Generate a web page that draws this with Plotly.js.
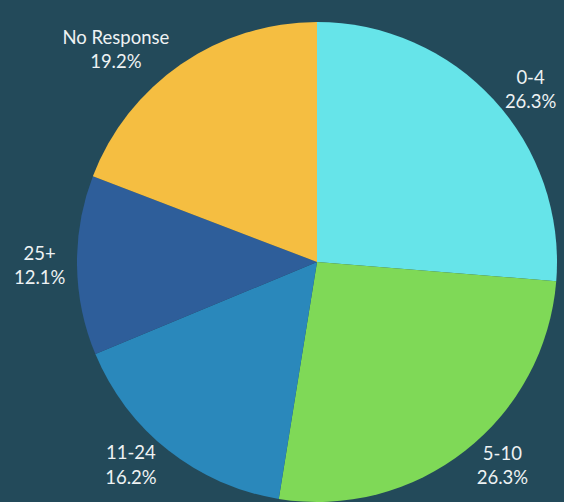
<!DOCTYPE html>
<html>
<head>
<meta charset="utf-8">
<script src="https://cdn.plot.ly/plotly-3.0.1.min.js"></script>
<style>html,body{margin:0;padding:0;background:#234a5a;}#chart{width:564px;height:502px;}</style>
</head>
<body>
<div id="chart"></div>
<script>
var categories = ["0-4", "5-10", "11-24", "25+", "No Response"];
var shares = [26.3, 26.3, 16.2, 12.1, 19.2];
var colors = ["#66e4e9", "#7fd957", "#2a88bb", "#2e5e9a", "#f5be41"];

var data = [{
  type: "pie",
  labels: categories,
  values: shares,
  sort: false,
  direction: "clockwise",
  rotation: 0,
  marker: {colors: colors, line: {width: 0}},
  textposition: "outside",
  textinfo: "label+percent",
  texttemplate: "%{label}<br>%{percent:.1%}",
  outsidetextfont: {family: "Lato, sans-serif", size: 18.5, color: "#eef2f3"},
  hoverinfo: "label+percent",
  automargin: false,
  domain: {x: [77/564, 557/564], y: [0, 480/502]}
}];

var layout = {
  width: 564,
  height: 502,
  margin: {l: 0, r: 0, t: 0, b: 0},
  paper_bgcolor: "#234a5a",
  plot_bgcolor: "#234a5a",
  showlegend: false,
  font: {family: "Lato, sans-serif", size: 18.5, color: "#eef2f3"}
};

Plotly.newPlot("chart", data, layout, {displayModeBar: false, staticPlot: true});
</script>
</body>
</html>
